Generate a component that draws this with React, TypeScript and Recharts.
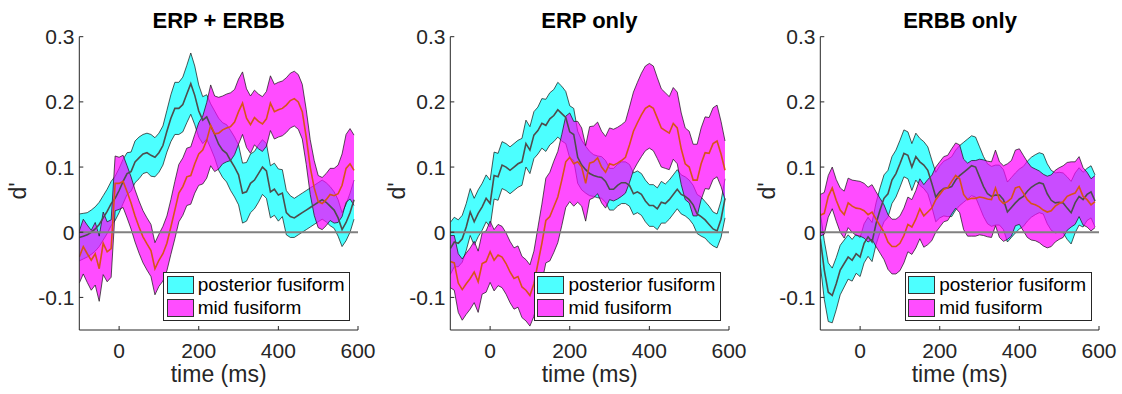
import React from 'react';
import { ComposedChart, Area, Line, XAxis, YAxis, ReferenceLine, Label } from 'recharts';

// time axis (ms), one sample every 10 ms
const times = [
  -100, -90, -80, -70, -60, -50, -40, -30, -20, -10,
  0, 10, 20, 30, 40, 50, 60, 70, 80, 90,
  100, 110, 120, 130, 140, 150, 160, 170, 180, 190,
  200, 210, 220, 230, 240, 250, 260, 270, 280, 290,
  300, 310, 320, 330, 340, 350, 360, 370, 380, 390,
  400, 410, 420, 430, 440, 450, 460, 470, 480, 490,
  500, 510, 520, 530, 540, 550, 560, 570, 580, 590,
];

const xTicks = [0, 200, 400, 600];
const yTicks = [-0.1, 0, 0.1, 0.2, 0.3];

// ERP + ERBB
const erpErbbPostMean = [
  -0.008, -0.006, -0.004, 0.0, 0.005, 0.012, 0.022, 0.032, 0.044, 0.052,
  0.064, 0.078, 0.09, 0.093, 0.108, 0.114, 0.12, 0.122, 0.118, 0.115,
  0.122, 0.133, 0.155, 0.175, 0.19, 0.19, 0.196, 0.212, 0.228, 0.21,
  0.186, 0.172, 0.177, 0.163, 0.15, 0.135, 0.126, 0.121, 0.11, 0.1,
  0.088, 0.06, 0.062, 0.075, 0.08, 0.09, 0.1, 0.094, 0.062, 0.066,
  0.057, 0.06, 0.03, 0.024, 0.022, 0.026, 0.03, 0.034, 0.038, 0.042,
  0.046, 0.05, 0.046, 0.04, 0.034, 0.022, 0.004, 0.015, 0.03, 0.05,
];
const erpErbbPostSem = [
  0.036, 0.035, 0.034, 0.034, 0.034, 0.034, 0.034, 0.034, 0.034, 0.034,
  0.034, 0.034, 0.032, 0.03, 0.032, 0.032, 0.03, 0.03, 0.032, 0.03,
  0.03, 0.03, 0.032, 0.036, 0.04, 0.04, 0.042, 0.044, 0.047, 0.045,
  0.04, 0.036, 0.034, 0.034, 0.036, 0.04, 0.042, 0.044, 0.046, 0.046,
  0.046, 0.046, 0.045, 0.045, 0.044, 0.044, 0.042, 0.042, 0.04, 0.04,
  0.04, 0.036, 0.034, 0.032, 0.03, 0.03, 0.03, 0.03, 0.03, 0.03,
  0.03, 0.03, 0.03, 0.03, 0.028, 0.028, 0.026, 0.028, 0.03, 0.03,
];
const erpErbbMidMean = [
  -0.038, -0.022, -0.033, -0.043, -0.033, -0.056, -0.017, -0.03, -0.025, 0.075,
  0.075, 0.078, 0.062, 0.045, 0.025, 0.008, -0.007, -0.018, -0.028, -0.056,
  -0.043, -0.033, -0.017, 0.008, 0.034, 0.06, 0.07, 0.085, 0.087, 0.105,
  0.12, 0.126, 0.141, 0.164, 0.151, 0.152, 0.157, 0.16, 0.162, 0.169,
  0.185, 0.198, 0.175, 0.165, 0.176, 0.17, 0.166, 0.174, 0.198, 0.185,
  0.188, 0.19, 0.195, 0.202, 0.205, 0.2, 0.185, 0.146, 0.1, 0.068,
  0.047, 0.044, 0.05, 0.058, 0.056, 0.059, 0.072, 0.098, 0.105, 0.095,
];
const erpErbbMidSem = [
  0.04, 0.042, 0.044, 0.046, 0.048, 0.05, 0.048, 0.046, 0.044, 0.042,
  0.04, 0.04, 0.04, 0.04, 0.04, 0.04, 0.04, 0.04, 0.04, 0.04,
  0.04, 0.042, 0.042, 0.042, 0.044, 0.044, 0.044, 0.044, 0.044, 0.045,
  0.048, 0.052, 0.058, 0.062, 0.058, 0.055, 0.052, 0.052, 0.052, 0.05,
  0.05, 0.048, 0.045, 0.044, 0.042, 0.042, 0.042, 0.042, 0.042, 0.042,
  0.042, 0.042, 0.042, 0.042, 0.042, 0.042, 0.042, 0.042, 0.042, 0.042,
  0.04, 0.04, 0.04, 0.04, 0.042, 0.044, 0.048, 0.052, 0.054, 0.054,
];

// ERP only
const erpPostMean = [
  -0.025, -0.015, -0.017, -0.01, 0.008, 0.031, 0.016, 0.029, 0.039, 0.052,
  0.044, 0.087, 0.085, 0.103, 0.1, 0.095, 0.1, 0.105, 0.108, 0.136,
  0.126, 0.149, 0.156, 0.167, 0.164, 0.174, 0.179, 0.188, 0.182, 0.176,
  0.154, 0.15, 0.115, 0.103, 0.096, 0.09, 0.087, 0.085, 0.084, 0.078,
  0.066, 0.066, 0.072, 0.076, 0.076, 0.072, 0.059, 0.062, 0.058, 0.048,
  0.041, 0.041, 0.036, 0.046, 0.044, 0.05, 0.058, 0.066, 0.058, 0.055,
  0.05, 0.042, 0.028, 0.024, 0.019, 0.012, 0.005, 0.002, 0.02, 0.052,
];
const erpPostSem = [
  0.04, 0.038, 0.036, 0.036, 0.036, 0.036, 0.036, 0.036, 0.036, 0.036,
  0.036, 0.036, 0.036, 0.036, 0.036, 0.036, 0.036, 0.036, 0.036, 0.036,
  0.036, 0.036, 0.036, 0.038, 0.04, 0.04, 0.04, 0.042, 0.042, 0.04,
  0.04, 0.04, 0.04, 0.038, 0.036, 0.034, 0.032, 0.032, 0.032, 0.032,
  0.032, 0.032, 0.032, 0.032, 0.032, 0.032, 0.032, 0.032, 0.032, 0.032,
  0.032, 0.032, 0.032, 0.032, 0.03, 0.03, 0.03, 0.03, 0.03, 0.03,
  0.03, 0.03, 0.03, 0.03, 0.028, 0.028, 0.026, 0.026, 0.028, 0.03,
];
const erpMidMean = [
  -0.045, -0.047, -0.078, -0.088, -0.079, -0.071, -0.061, -0.076, -0.048, -0.045,
  -0.03, -0.043, -0.035, -0.038, -0.048, -0.061, -0.071, -0.068, -0.084, -0.089,
  -0.097, -0.079, -0.048, -0.017, 0.018, 0.024, 0.039, 0.054, 0.08, 0.108,
  0.115, 0.105, 0.108, 0.1, 0.075, 0.106, 0.108, 0.114, 0.1, 0.092,
  0.105, 0.103, 0.106, 0.11, 0.115, 0.134, 0.155, 0.168, 0.18, 0.19,
  0.194, 0.19, 0.175, 0.16, 0.156, 0.152, 0.167, 0.16, 0.128, 0.105,
  0.1, 0.08, 0.08, 0.105, 0.122, 0.121, 0.136, 0.14, 0.12, 0.095,
];
const erpMidSem = [
  0.04, 0.042, 0.045, 0.047, 0.047, 0.047, 0.047, 0.047, 0.047, 0.047,
  0.047, 0.047, 0.047, 0.047, 0.047, 0.047, 0.047, 0.047, 0.047, 0.047,
  0.047, 0.05, 0.055, 0.06, 0.065, 0.068, 0.07, 0.07, 0.07, 0.07,
  0.068, 0.065, 0.062, 0.06, 0.058, 0.056, 0.055, 0.055, 0.055, 0.055,
  0.055, 0.055, 0.055, 0.055, 0.055, 0.058, 0.06, 0.062, 0.064, 0.065,
  0.065, 0.065, 0.062, 0.06, 0.058, 0.056, 0.055, 0.055, 0.055, 0.055,
  0.055, 0.055, 0.055, 0.055, 0.055, 0.055, 0.055, 0.055, 0.05, 0.045,
];

// ERBB only
const erbbPostMean = [
  -0.01, -0.058, -0.092, -0.097, -0.079, -0.058, -0.048, -0.038, -0.043, -0.033,
  -0.038, -0.017, -0.007, -0.015, 0.013, 0.034, 0.052, 0.059, 0.08, 0.09,
  0.105, 0.121, 0.118, 0.1, 0.116, 0.108, 0.103, 0.095, 0.075, 0.054,
  0.062, 0.067, 0.068, 0.07, 0.08, 0.087, 0.092, 0.097, 0.102, 0.1,
  0.085, 0.07, 0.059, 0.055, 0.057, 0.057, 0.05, 0.031, 0.038, 0.045,
  0.051, 0.055, 0.063, 0.069, 0.073, 0.076, 0.074, 0.059, 0.049, 0.045,
  0.046, 0.045, 0.037, 0.03, 0.045, 0.055, 0.05, 0.058, 0.062, 0.048,
];
const erbbPostSem = [
  0.04, 0.045, 0.045, 0.042, 0.04, 0.038, 0.036, 0.034, 0.032, 0.03,
  0.03, 0.03, 0.03, 0.03, 0.032, 0.034, 0.036, 0.036, 0.036, 0.036,
  0.036, 0.036, 0.036, 0.036, 0.036, 0.036, 0.036, 0.036, 0.036, 0.038,
  0.04, 0.042, 0.044, 0.046, 0.046, 0.046, 0.046, 0.046, 0.046, 0.046,
  0.046, 0.046, 0.046, 0.046, 0.046, 0.046, 0.046, 0.046, 0.046, 0.046,
  0.046, 0.046, 0.046, 0.046, 0.046, 0.046, 0.046, 0.046, 0.046, 0.046,
  0.046, 0.046, 0.048, 0.048, 0.046, 0.044, 0.042, 0.04, 0.04, 0.04,
];
const erbbMidMean = [
  0.026, 0.029, 0.055, 0.068, 0.049, 0.034, 0.027, 0.045, 0.04, 0.037,
  0.036, 0.033, 0.027, 0.031, 0.02, 0.01, 0.0, -0.015, -0.022, -0.022,
  -0.017, -0.005, 0.012, 0.008, 0.02, 0.036, 0.025, 0.031, 0.037, 0.05,
  0.058, 0.066, 0.068, 0.078, 0.087, 0.082, 0.058, 0.05, 0.052, 0.052,
  0.054, 0.053, 0.051, 0.05, 0.068, 0.05, 0.044, 0.047, 0.052, 0.068,
  0.07, 0.06, 0.05, 0.044, 0.042, 0.039, 0.034, 0.031, 0.033, 0.04,
  0.044, 0.047, 0.055, 0.058, 0.06, 0.07, 0.055, 0.05, 0.042, 0.047,
];
const erbbMidSem = [
  0.032, 0.032, 0.032, 0.032, 0.032, 0.034, 0.036, 0.038, 0.04, 0.042,
  0.042, 0.042, 0.042, 0.042, 0.042, 0.042, 0.042, 0.042, 0.042, 0.042,
  0.042, 0.042, 0.042, 0.042, 0.044, 0.046, 0.048, 0.05, 0.05, 0.05,
  0.05, 0.05, 0.05, 0.05, 0.05, 0.052, 0.054, 0.056, 0.058, 0.058,
  0.058, 0.058, 0.058, 0.058, 0.058, 0.058, 0.058, 0.058, 0.058, 0.058,
  0.058, 0.058, 0.058, 0.056, 0.055, 0.055, 0.055, 0.055, 0.055, 0.055,
  0.055, 0.055, 0.052, 0.05, 0.048, 0.046, 0.044, 0.042, 0.04, 0.04,
];

const FONT = '"Liberation Sans", Arial, Helvetica, sans-serif';
const AXIS = '#262626';
const CYAN = '#00ffff';
const MAGENTA = '#ff00ff';
const ALPHA = 0.7;

// layout of one panel (px, relative to its own svg)
const W = 380;
const H = 394;
const PLOT_LEFT = 79.3;
const PLOT_W = 278.7;
const PLOT_TOP = 36.7;
const PLOT_BOTTOM = 330;

const buildRows = (pm, ps, mm, ms) =>
  times.map((t, i) => ({
    t,
    postMean: pm[i],
    postBand: [pm[i] - ps[i], pm[i] + ps[i]],
    midMean: mm[i],
    midBand: [mm[i] - ms[i], mm[i] + ms[i]],
  }));

const panels = [
  { title: 'ERP + ERBB', left: 0, yGap: 53.3, rows: buildRows(erpErbbPostMean, erpErbbPostSem, erpErbbMidMean, erpErbbMidSem) },
  { title: 'ERP only', left: 370.7, yGap: 45, rows: buildRows(erpPostMean, erpPostSem, erpMidMean, erpMidSem) },
  { title: 'ERBB only', left: 741.4, yGap: 45, rows: buildRows(erbbPostMean, erbbPostSem, erbbMidMean, erbbMidSem) },
];

const fmt = (v: number) => (v === 0 ? '0' : String(v));

const LegendBox = () => (
  <div
    style={{
      position: 'absolute',
      left: PLOT_LEFT + 84,
      top: 272,
      width: 187,
      height: 49,
      boxSizing: 'border-box',
      border: '1px solid ' + AXIS,
      background: '#fff',
      fontFamily: FONT,
      fontSize: 19,
      color: '#000',
    }}
  >
    {[
      { name: 'posterior fusiform', color: '#4dffff', top: 3 },
      { name: 'mid fusiform', color: '#ff4dff', top: 26 },
    ].map((it) => (
      <React.Fragment key={it.name}>
        <div
          style={{
            position: 'absolute',
            left: 2.5,
            top: it.top,
            width: 27,
            height: 18,
            boxSizing: 'border-box',
            background: it.color,
            border: '1px solid #333',
          }}
        />
        <div style={{ position: 'absolute', left: 33.5, top: it.top - 0.7, lineHeight: '19px', whiteSpace: 'nowrap' }}>
          {it.name}
        </div>
      </React.Fragment>
    ))}
  </div>
);

const Panel = ({ p }) => (
  <div style={{ position: 'absolute', left: p.left, top: 0, width: W, height: H }}>
    <div
      style={{
        position: 'absolute',
        left: PLOT_LEFT,
        width: PLOT_W,
        top: 10,
        textAlign: 'center',
        fontFamily: FONT,
        fontWeight: 'bold',
        fontSize: 22,
        lineHeight: '22px',
        color: '#000',
      }}
    >
      {p.title}
    </div>
    <ComposedChart
      width={W}
      height={H}
      data={p.rows}
      margin={{ top: PLOT_TOP, right: W - PLOT_LEFT - PLOT_W, bottom: 0, left: PLOT_LEFT - 50 }}
    >
      <XAxis
        dataKey="t"
        type="number"
        domain={[-100, 600]}
        ticks={xTicks}
        interval={0}
        allowDataOverflow
        height={H - PLOT_BOTTOM}
        tickSize={-4}
        tickMargin={16.8}
        axisLine={{ stroke: AXIS, strokeWidth: 1 }}
        tickLine={{ stroke: AXIS, strokeWidth: 1 }}
        tick={{ fill: AXIS, fontSize: 21, fontFamily: FONT }}
      >
        <Label
          content={(props: any) => {
            const vb = props.viewBox || {};
            return (
              <text x={PLOT_LEFT + PLOT_W / 2} y={382} textAnchor="middle" fontSize={23} fontFamily={FONT} fill={AXIS}>
                time (ms)
              </text>
            );
          }}
        />
      </XAxis>
      <YAxis
        type="number"
        domain={[-0.15, 0.3]}
        ticks={yTicks}
        interval={0}
        allowDataOverflow
        width={50}
        tickSize={-4}
        tickMargin={8.8}
        tickFormatter={fmt}
        axisLine={{ stroke: AXIS, strokeWidth: 1 }}
        tickLine={{ stroke: AXIS, strokeWidth: 1 }}
        tick={{ fill: AXIS, fontSize: 21, fontFamily: FONT }}
      >
        <Label
          content={() => {
            const x = PLOT_LEFT - p.yGap;
            const y = 191;
            return (
              <text
                x={x}
                y={y}
                transform={`rotate(-90, ${x}, ${y})`}
                textAnchor="middle"
                fontSize={23}
                fontFamily={FONT}
                fill={AXIS}
              >
                d'
              </text>
            );
          }}
        />
      </YAxis>
      <Area
        type="linear"
        dataKey="postBand"
        stroke="#111"
        strokeWidth={0.7}
        fill={CYAN}
        fillOpacity={ALPHA}
        isAnimationActive={false}
        dot={false}
        activeDot={false}
      />
      <Line
        type="linear"
        dataKey="postMean"
        stroke="#4d4d4d"
        strokeWidth={1.6}
        dot={false}
        activeDot={false}
        isAnimationActive={false}
      />
      <Area
        type="linear"
        dataKey="midBand"
        stroke="#111"
        strokeWidth={0.7}
        fill={MAGENTA}
        fillOpacity={ALPHA}
        isAnimationActive={false}
        dot={false}
        activeDot={false}
      />
      <Line
        type="linear"
        dataKey="midMean"
        stroke="#d95319"
        strokeWidth={1.6}
        dot={false}
        activeDot={false}
        isAnimationActive={false}
      />
      <ReferenceLine y={0} stroke="#808080" strokeWidth={1.8} />
    </ComposedChart>
    <LegendBox />
  </div>
);

export default function App() {
  return (
    <div style={{ position: 'absolute', left: 0, top: 0, width: 1122, height: 394, background: '#fff' }}>
      {panels.map((p) => (
        <Panel key={p.title} p={p} />
      ))}
    </div>
  );
}
